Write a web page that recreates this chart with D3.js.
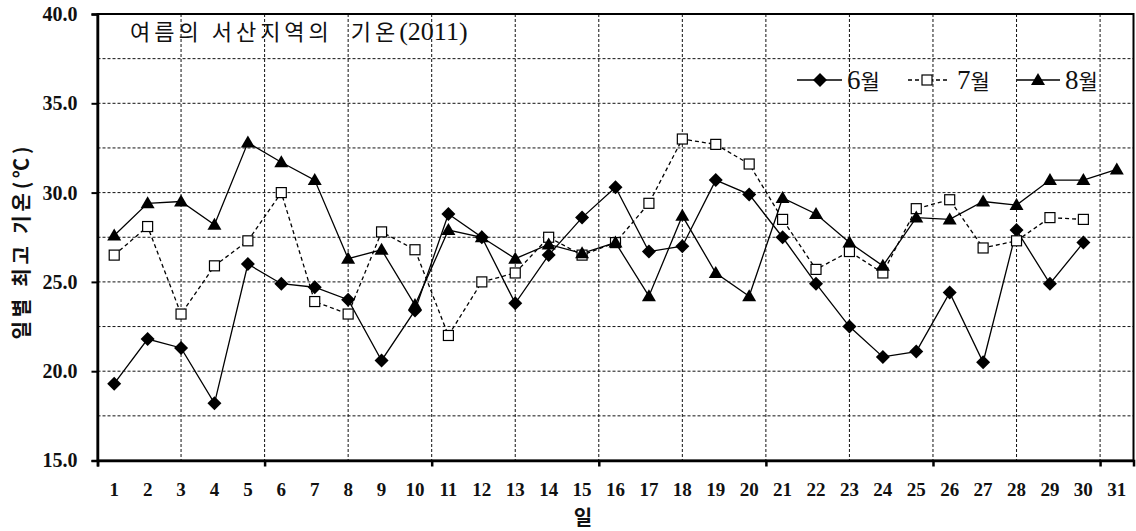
<!DOCTYPE html>
<html>
<head>
<meta charset="utf-8">
<script src="https://cdn.jsdelivr.net/npm/d3@7/dist/d3.min.js"></script>
<style>
  html, body { margin: 0; padding: 0; background: #fff; }
  svg { display: block; }
</style>
</head>
<body>
<svg id="chart" width="1136" height="531"></svg>
<script>
const titleKorean = "여름의 서산지역의  기온";
const titleYear = "(2011)";
const yAxisTitle = "일별 최고 기온(℃)";
const xAxisTitle = "일";
const seriesNames = ["6월", "7월", "8월"];
const dayLabels = d3.range(1, 32);
const yTicks = [15, 20, 25, 30, 35, 40];
const junTemps = [19.3,21.8,21.3,18.2,26.0,24.9,24.7,24.0,20.6,23.4,28.8,27.5,23.8,26.5,28.6,30.3,26.7,27.0,30.7,29.9,27.5,24.9,22.5,20.8,21.1,24.4,20.5,27.9,24.9,27.2];
const julTemps = [26.5,28.1,23.2,25.9,27.3,30.0,23.9,23.2,27.8,26.8,22.0,25.0,25.5,27.5,26.5,27.2,29.4,33.0,32.7,31.6,28.5,25.7,26.7,25.5,29.1,29.6,26.9,27.3,28.6,28.5];
const augTemps = [27.6,29.4,29.5,28.2,32.8,31.7,30.7,26.3,26.8,23.7,27.9,27.5,26.3,27.1,26.6,27.2,24.2,28.7,25.5,24.2,29.7,28.8,27.2,25.9,28.6,28.5,29.5,29.3,30.7,30.7,31.3];

const svg = d3.select("#chart");
const L = 97.5, R = 1133.5, T = 14, B = 460.5;
const x = d3.scaleLinear().domain([0.5, 31.5]).range([L, R]);
const y = d3.scaleLinear().domain([15, 40]).range([B, T]);

const serif = "'Liberation Serif', 'Times New Roman', serif";
const kor = "'Noto Sans CJK KR', sans-serif";

// grid
const g = svg.append("g");
const hGrid = d3.range(17.5, 40, 2.5);
g.selectAll(".hg").data(hGrid).enter().append("line")
  .attr("x1", L).attr("x2", R).attr("y1", d => y(d)).attr("y2", d => y(d))
  .attr("stroke", "#111").attr("stroke-width", 1).attr("stroke-dasharray", "3,2");
const vGrid = d3.range(3, 31.5, 2.5);
g.selectAll(".vg").data(vGrid).enter().append("line")
  .attr("y1", T).attr("y2", B).attr("x1", d => x(d)).attr("x2", d => x(d))
  .attr("stroke", "#111").attr("stroke-width", 1).attr("stroke-dasharray", "3,2");

// border
svg.append("rect").attr("x", L).attr("y", T).attr("width", R - L).attr("height", B - T)
  .attr("fill", "none").attr("stroke", "#000").attr("stroke-width", 2);

// y axis
const yAxis = d3.axisLeft(y).tickValues(yTicks).tickSize(6).tickPadding(14).tickFormat(d3.format(".1f"));
const ya = svg.append("g").attr("transform", `translate(${L},0)`).call(yAxis);
ya.select(".domain").attr("stroke-width", 2.5);
ya.selectAll(".tick line").attr("stroke-width", 2);
ya.selectAll("text").attr("font-family", serif).attr("font-weight", "bold").attr("font-size", 20).attr("fill", "#111");

// x axis: ticks every 5 days between categories; labels at each day
const xAxis = d3.axisBottom(x).tickValues(d3.range(0.5, 31.5, 5)).tickSize(6).tickFormat("");
const xa = svg.append("g").attr("transform", `translate(0,${B})`).call(xAxis);
xa.select(".domain").attr("stroke-width", 2.5);
xa.selectAll(".tick line").attr("stroke-width", 2.5);
svg.append("g").selectAll("text").data(dayLabels).enter().append("text")
  .attr("x", d => x(d)).attr("y", 496)
  .attr("text-anchor", "middle")
  .attr("font-family", serif).attr("font-weight", "bold").attr("font-size", 19).attr("fill", "#111")
  .text(d => d);

// axis titles
svg.append("text").attr("x", 583).attr("y", 525).attr("text-anchor", "middle")
  .attr("font-family", kor).attr("font-weight", "bold").attr("font-size", 20).attr("fill", "#111")
  .text(xAxisTitle);
svg.append("text").attr("transform", "translate(29,243) rotate(-90)").attr("text-anchor", "middle")
  .attr("font-family", kor).attr("font-weight", "bold").attr("font-size", 20).attr("fill", "#111")
  .attr("textLength", 193).attr("lengthAdjust", "spacing")
  .text(yAxisTitle);

// title
const tt = svg.append("text").attr("x", 130).attr("y", 40).attr("fill", "#111")
  .style("white-space", "pre");
tt.append("tspan").attr("font-family", kor).attr("font-size", 22).attr("letter-spacing", 4).text(titleKorean);
tt.append("tspan").attr("font-family", serif).attr("font-size", 26).text(titleYear);

// series
const series = [
  { name: seriesNames[0], values: junTemps, dash: null, marker: "diamond" },
  { name: seriesNames[1], values: julTemps, dash: "4,3", marker: "square" },
  { name: seriesNames[2], values: augTemps, dash: null, marker: "triangle" }
];
const line = d3.line().x((d, i) => x(i + 1)).y(d => y(d));
function diamondPath(s) { return `M0,${-s}L${s},0L0,${s}L${-s},0Z`; }
function addMarker(sel, type) {
  if (type === "diamond") sel.append("path").attr("d", diamondPath(7)).attr("fill", "#000");
  else if (type === "square") sel.append("rect").attr("x", -5).attr("y", -5).attr("width", 10).attr("height", 10)
      .attr("fill", "#fff").attr("stroke", "#000").attr("stroke-width", 1.2);
  else sel.append("path").attr("d", "M0,-7L7,5L-7,5Z").attr("fill", "#000");
}
series.forEach(s => {
  svg.append("path").datum(s.values).attr("d", line)
    .attr("fill", "none").attr("stroke", "#000").attr("stroke-width", 1.3)
    .attr("stroke-dasharray", s.dash);
});
series.forEach(s => {
  const m = svg.append("g").selectAll("g").data(s.values).enter().append("g")
    .attr("transform", (d, i) => `translate(${x(i + 1)},${y(d)})`);
  addMarker(m, s.marker);
});

// legend
const legendItems = [
  { s: series[0], x1: 797, x2: 842, mx: 820, tx: 847 },
  { s: series[1], x1: 908, x2: 947, mx: 927, tx: 957 },
  { s: series[2], x1: 1017, x2: 1060, mx: 1038, tx: 1065 }
];
const lg = svg.append("g");
legendItems.forEach(it => {
  lg.append("line").attr("x1", it.x1).attr("x2", it.x2).attr("y1", 80).attr("y2", 80)
    .attr("stroke", "#000").attr("stroke-width", 1.3).attr("stroke-dasharray", it.s.dash);
  const mg = lg.append("g").attr("transform", `translate(${it.mx},80)`);
  addMarker(mg, it.s.marker);
  const t = lg.append("text").attr("x", it.tx).attr("y", 89).attr("fill", "#111");
  t.append("tspan").attr("font-family", serif).attr("font-size", 27).text(it.s.name.slice(0, 1));
  t.append("tspan").attr("font-family", kor).attr("font-size", 21).text(it.s.name.slice(1));
});
</script>
</body>
</html>
